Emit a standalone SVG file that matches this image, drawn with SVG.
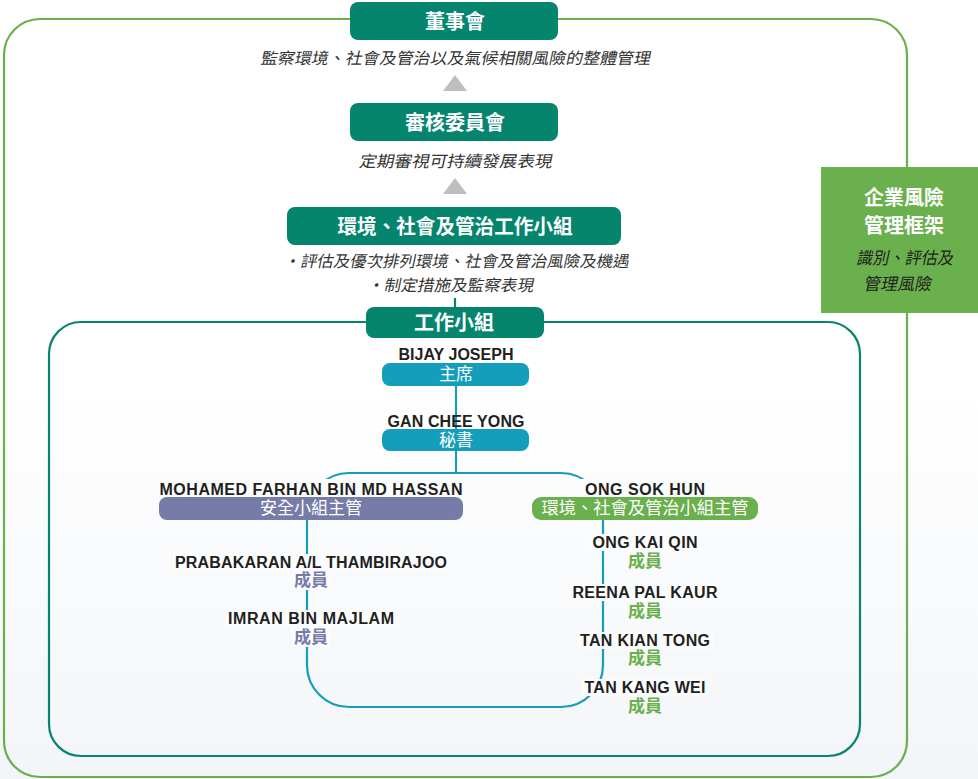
<svg xmlns="http://www.w3.org/2000/svg" width="978" height="779" viewBox="0 0 978 779">
<defs>
<linearGradient id="bg" x1="0" y1="0" x2="0" y2="1">
<stop offset="0" stop-color="#ffffff"/>
<stop offset="0.5" stop-color="#ffffff"/>
<stop offset="1" stop-color="#f3f5f8"/>
</linearGradient>
<style>
.gbox{fill:#05846e}
.ttl{font-family:"Noto Sans CJK TC","Noto Sans CJK SC",sans-serif;font-weight:700;fill:#fff;text-anchor:middle;font-size:20px}
.desc{font-family:"Noto Sans CJK TC","Noto Sans CJK SC",sans-serif;fill:#333;font-size:16px;text-anchor:middle}
.descs{font-family:"Noto Sans CJK TC","Noto Sans CJK SC",sans-serif;fill:#231f20;font-size:17px;text-anchor:start}
.name{font-family:"Liberation Sans",Arial,sans-serif;font-weight:700;fill:#231f20;font-size:16px;text-anchor:middle}
.role{font-family:"Noto Sans CJK TC","Noto Sans CJK SC",sans-serif;fill:#fff;font-size:17px;text-anchor:middle}
.mem{font-family:"Noto Sans CJK TC","Noto Sans CJK SC",sans-serif;font-size:17px;font-weight:700;text-anchor:middle}
.bk{fill:#fbfcfd}
.tri{fill:#bcbec0}
</style>
</defs>
<rect width="978" height="779" fill="url(#bg)"/>
<g id="frames" fill="none">
<rect x="4" y="19" width="903" height="758" rx="36" stroke="#6ab04c" stroke-width="2.2"/>
<rect x="49" y="322" width="811" height="434" rx="32" stroke="#05846e" stroke-width="2.2"/>
</g>
<g id="connectors" fill="none" stroke="#159ebb" stroke-width="2.2">
<line x1="455" y1="298" x2="455" y2="308" stroke="#05846e"/>
<line x1="456" y1="386" x2="456" y2="431"/>
<line x1="456" y1="451" x2="456" y2="473"/>
<rect x="307" y="473" width="296" height="234" rx="42"/>
<polygon class="tri" points="455,75 467,91 443,91" stroke="none"/>
<polygon class="tri" points="455,178 467,194 443,194" stroke="none"/>
</g>
<g id="board">
<rect class="gbox" x="350" y="2" width="208" height="38" rx="8"/>
<text class="ttl" x="455" y="29">董事會</text>
<text class="desc" transform="translate(455,64) skewX(-12)" textLength="390" lengthAdjust="spacingAndGlyphs">監察環境、社會及管治以及氣候相關風險的整體管理</text>
</g>
<g id="audit">
<rect class="gbox" x="350" y="103" width="208" height="38" rx="8"/>
<text class="ttl" x="455" y="130">審核委員會</text>
<text class="desc" transform="translate(455,167) skewX(-12)" textLength="193" lengthAdjust="spacingAndGlyphs">定期審視可持續發展表現</text>
</g>
<g id="esg">
<rect class="gbox" x="287" y="207" width="334" height="38" rx="8"/>
<text class="ttl" x="455" y="234" textLength="235" lengthAdjust="spacingAndGlyphs">環境、社會及管治工作小組</text>
<text class="desc" transform="translate(456,267) skewX(-12)" textLength="345" lengthAdjust="spacingAndGlyphs">・評估及優次排列環境、社會及管治風險及機遇</text>
<text class="desc" transform="translate(450,291) skewX(-12)" textLength="166" lengthAdjust="spacingAndGlyphs">・制定措施及監察表現</text>
</g>
<g id="wg">
<rect class="gbox" x="366" y="307" width="178" height="31" rx="8"/>
<text class="ttl" x="454" y="330">工作小組</text>
</g>
<g id="erm">
<rect x="821" y="167" width="157" height="146" fill="#6ab04c"/>
<text class="ttl" x="904" y="205">企業風險</text>
<text class="ttl" x="904" y="233">管理框架</text>
<text class="descs" transform="translate(856,264) skewX(-12)" textLength="97" lengthAdjust="spacingAndGlyphs">識別、評估及</text>
<text class="descs" transform="translate(863,290) skewX(-12)">管理風險</text>
</g>
<g id="chair">
<text class="name" x="456" y="360" textLength="115">BIJAY JOSEPH</text>
<rect x="382" y="363" width="147" height="23" rx="8" fill="#159ebb"/>
<text class="role" x="456" y="380">主席</text>
</g>
<g id="secretary">
<text class="name" x="456" y="427" textLength="137">GAN CHEE YONG</text>
<rect x="382" y="429" width="147" height="22" rx="8" fill="#159ebb"/>
<text class="role" x="456" y="446">秘書</text>
</g>
<g id="safety">
<rect class="bk" x="158" y="479" width="307" height="18"/>
<text class="name" x="311" y="495" textLength="303">MOHAMED FARHAN BIN MD HASSAN</text>
<rect x="159" y="497" width="304" height="23" rx="8" fill="#767ba8"/>
<text class="role" x="311" y="514">安全小組主管</text>
</g>
<g id="esglead">
<rect class="bk" x="580" y="479" width="130" height="18"/>
<text class="name" x="645" y="495" textLength="120">ONG SOK HUN</text>
<rect x="532" y="497" width="226" height="23" rx="9" fill="#6ab04c"/>
<text class="role" x="645" y="514" textLength="207" lengthAdjust="spacingAndGlyphs">環境、社會及管治小組主管</text>
</g>
<g id="m1">
<rect class="bk" x="173" y="554" width="277" height="17"/>
<rect class="bk" x="292" y="571" width="38" height="19"/>
<text class="name" x="311" y="568" textLength="272">PRABAKARAN A/L THAMBIRAJOO</text>
<text class="mem" x="311" y="586" fill="#767ba8">成員</text>
</g>
<g id="m2">
<rect class="bk" x="225" y="610" width="172" height="17"/>
<rect class="bk" x="292" y="627" width="38" height="20"/>
<text class="name" x="311" y="624" textLength="166">IMRAN BIN MAJLAM</text>
<text class="mem" x="311" y="643" fill="#767ba8">成員</text>
</g>
<g id="m3">
<rect class="bk" x="589" y="534" width="112" height="17"/>
<text class="name" x="645" y="548" textLength="105">ONG KAI QIN</text>
<text class="mem" x="645" y="567" fill="#6ab04c">成員</text>
</g>
<g id="m4">
<rect class="bk" x="569" y="584" width="152" height="17"/>
<text class="name" x="645" y="598" textLength="145">REENA PAL KAUR</text>
<text class="mem" x="645" y="617" fill="#6ab04c">成員</text>
</g>
<g id="m5">
<rect class="bk" x="577" y="632" width="136" height="17"/>
<text class="name" x="645" y="646" textLength="130">TAN KIAN TONG</text>
<text class="mem" x="645" y="664" fill="#6ab04c">成員</text>
</g>
<g id="m6">
<rect class="bk" x="581" y="679" width="128" height="17"/>
<text class="name" x="645" y="693" textLength="121">TAN KANG WEI</text>
<text class="mem" x="645" y="712" fill="#6ab04c">成員</text>
</g>
</svg>
